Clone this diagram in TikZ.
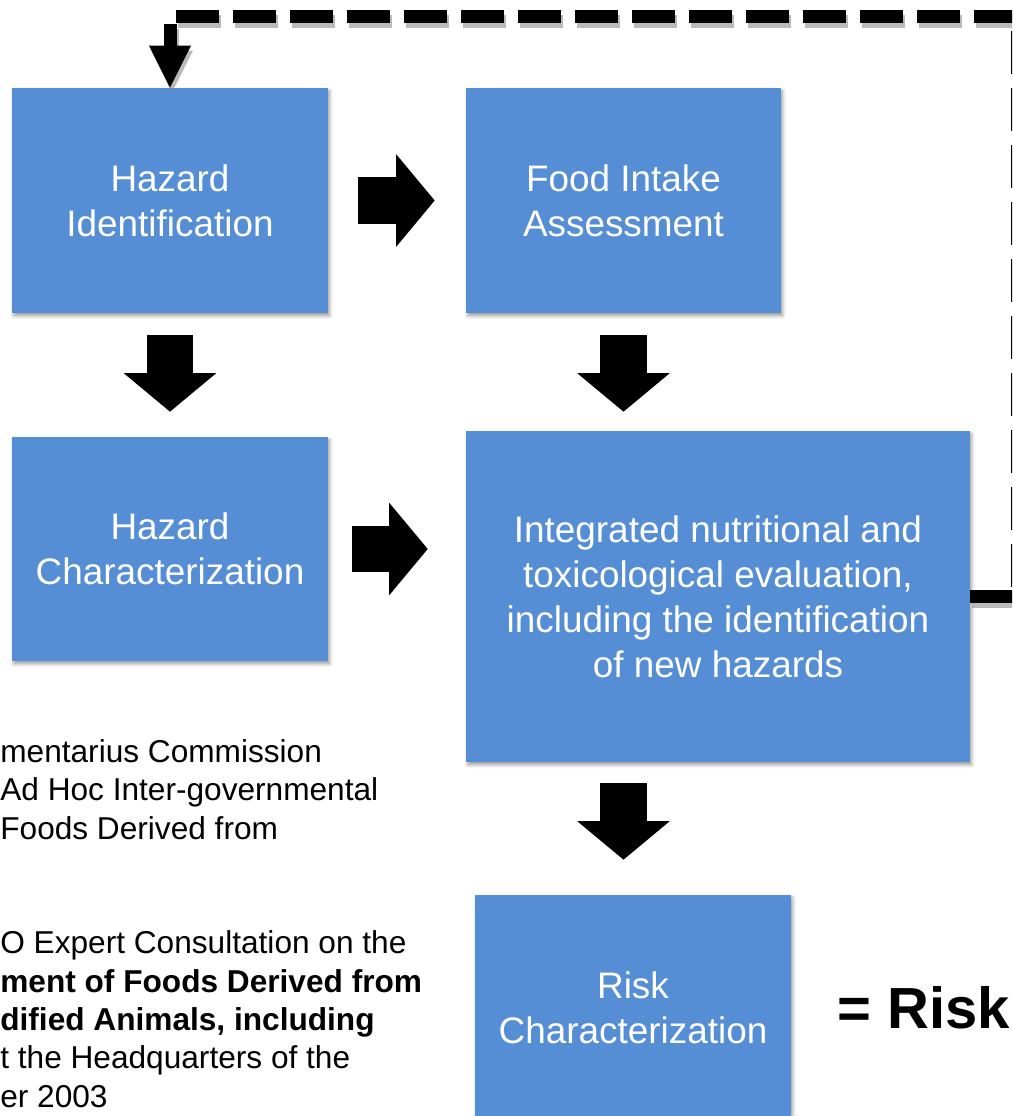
\documentclass[tikz,border=0pt]{standalone}
\usepackage{fontspec}
\setmainfont{Liberation Sans}
\usetikzlibrary{arrows.meta,calc,shadows.blur}
\definecolor{boxblue}{RGB}{85,142,213}
\tikzset{
  stage/.style={rectangle, fill=boxblue, text=white, align=center, inner sep=0pt,
    font=\fontsize{21}{25.6}\selectfont,
    blur shadow={shadow xshift=1pt, shadow yshift=-1.6pt, shadow blur radius=2pt, shadow opacity=40}},
  blockarr/.style={line width=0.93cm, -{Triangle[length=0.77cm, width=1.85cm, line width=0pt]}},
  loopline/.style={line width=0.26cm, dash pattern=on 0.86cm off 0.28cm, line join=round},
  feedback/.style={loopline, -{Triangle[length=0.84cm, width=0.84cm, line width=0pt]},
    preaction={draw=black!45, opacity=0.6, loopline, transform canvas={shift={(2,5)}}}},
  note/.style={anchor=base west, inner sep=0pt, font=\fontsize{18}{22}\selectfont}
}

\begin{document}
\begin{tikzpicture}[x=0.02cm, y=-0.02cm]
  \useasboundingbox (0,0) rectangle (1012,1116);
  \clip (0,0) rectangle (1012,1116);
  % stages of the assessment
  \node[stage, minimum width=6.32cm, minimum height=4.5cm] (hazid) at (170,200.5) {Hazard\\Identification};
  \node[stage, minimum width=6.3cm, minimum height=4.5cm] (food) at (623.5,200.5) {Food Intake\\Assessment};
  \node[stage, minimum width=6.32cm, minimum height=4.48cm] (hazchar) at (170,549) {Hazard\\Characterization};
  \node[stage, minimum width=10.08cm, minimum height=6.62cm] (integ) at (718,596.5)
       {Integrated nutritional and\\toxicological evaluation,\\including the identification\\of new hazards};
  \node[stage, minimum width=6.32cm, minimum height=4.5cm] (risk) at (633,1007.5) {Risk\\Characterization};
  \node[anchor=base west, inner sep=0pt, font=\fontsize{33}{38}\selectfont\bfseries] (risklabel) at (837,1028) {= Risk};
  % block arrows
  \draw[blockarr, shorten <=0.6cm, shorten >=0.62cm] (hazid) -- (food);
  \draw[blockarr, shorten <=0.44cm, shorten >=0.5cm] (hazid) -- (hazchar);
  \draw[blockarr, shorten <=0.44cm, shorten >=0.38cm] (food) -- (food |- integ.north);
  \draw[blockarr, shorten <=0.48cm, shorten >=0.76cm] (hazchar) -- (hazchar -| integ.west);
  \draw[blockarr, shorten <=0.42cm, shorten >=0.7cm] (integ.south -| food) -- (risk.north -| food);
  % feedback loop back to the start
  \draw[feedback] (integ.east) -- ++(47,0) |- ($(hazid.north)+(0,-71)$) -- (hazid.north);
  % source notes, starting at the left edge
  \node[note] (src1) at (0,762) {mentarius Commission};
  \node[note] (src2) at (0,800.5) {Ad Hoc Inter-governmental};
  \node[note] (src3) at (0,839) {Foods Derived from};
  \node[note] (src4) at (0,953) {O Expert Consultation on the};
  \node[note, font=\fontsize{18}{22}\selectfont\bfseries] (src5) at (0,992) {ment of Foods Derived from};
  \node[note, font=\fontsize{18}{22}\selectfont\bfseries] (src6) at (0,1030) {dified Animals, including};
  \node[note] (src7) at (0,1068) {t the Headquarters of the};
  \node[note] (src8) at (0,1107) {er 2003};
\end{tikzpicture}
\end{document}
